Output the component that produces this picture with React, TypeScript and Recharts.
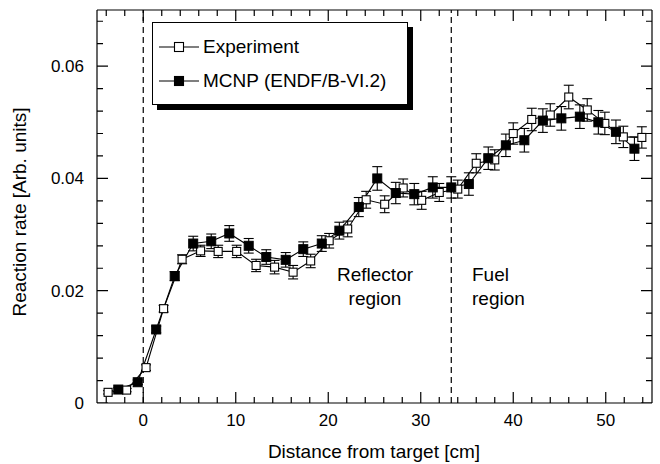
import React from "react";
import {
  ComposedChart,
  Line,
  XAxis,
  YAxis,
  ErrorBar,
  ReferenceLine,
} from "recharts";

/* Reaction rate distribution: experiment vs MCNP, with error bars.
   Ticks point inward on all four sides; each side is one Line whose
   short segments are split by null points. */

const FONT = '"Liberation Sans", Arial, Helvetica, sans-serif';

const expX = [-3.8, -1.8, 0.3, 2.2, 4.2, 6.2, 8.1, 10.1, 12.2, 14.2, 16.2, 18.1, 20.1, 22.1, 24.1, 26.1, 28.1, 30.1, 32.0, 34.0, 36.0, 38.0, 40.0, 42.0, 44.0, 46.0, 48.0, 49.9, 51.9, 53.9];
const expY = [0.0019, 0.0023, 0.0063, 0.0168, 0.0256, 0.0271, 0.027, 0.027, 0.0245, 0.0242, 0.0233, 0.0253, 0.0289, 0.031, 0.0362, 0.0354, 0.0383, 0.0361, 0.0375, 0.0381, 0.0427, 0.0433, 0.048, 0.0505, 0.0513, 0.0545, 0.0522, 0.0498, 0.0474, 0.0473];
const expErr = [0.0003, 0.0003, 0.0005, 0.0006, 0.0008, 0.001, 0.0011, 0.0011, 0.0011, 0.0012, 0.0012, 0.0012, 0.0013, 0.0014, 0.0015, 0.0015, 0.0016, 0.0016, 0.0016, 0.0016, 0.0017, 0.0018, 0.0019, 0.002, 0.002, 0.0021, 0.002, 0.002, 0.0019, 0.0019];

const mcnpX = [-2.7, -0.6, 1.4, 3.4, 5.4, 7.35, 9.3, 11.4, 13.3, 15.4, 17.3, 19.3, 21.2, 23.3, 25.3, 27.3, 29.3, 31.3, 33.3, 35.2, 37.3, 39.2, 41.2, 43.2, 45.2, 47.2, 49.2, 51.1, 53.1];
const mcnpY = [0.0024, 0.0037, 0.0131, 0.0226, 0.0284, 0.0288, 0.0302, 0.028, 0.026, 0.0255, 0.0274, 0.0284, 0.0307, 0.0349, 0.04, 0.0374, 0.0372, 0.0384, 0.0384, 0.039, 0.0436, 0.0459, 0.0468, 0.0503, 0.0507, 0.051, 0.05, 0.0483, 0.0453];
const mcnpErr = [0.0003, 0.0004, 0.0006, 0.0008, 0.0013, 0.0013, 0.0014, 0.0013, 0.0013, 0.0013, 0.0013, 0.0014, 0.0015, 0.0017, 0.0021, 0.0019, 0.0019, 0.0019, 0.0019, 0.002, 0.002, 0.002, 0.0021, 0.0021, 0.0021, 0.0021, 0.0021, 0.0021, 0.0021];

const xMajor = [0, 10, 20, 30, 40, 50];
const xMinor = [-4, -2, 2, 4, 6, 8, 12, 14, 16, 18, 22, 24, 26, 28, 32, 34, 36, 38, 42, 44, 46, 48, 52, 54];
const yMajor = [0, 0.02, 0.04, 0.06];
const yMinor = [0.004, 0.008, 0.012, 0.016, 0.024, 0.028, 0.032, 0.036, 0.044, 0.048, 0.052, 0.056, 0.064, 0.068];
const regionBounds = [0, 33.3];

const X_DOMAIN: [number, number] = [-5, 55];
const Y_DOMAIN: [number, number] = [0, 0.07];

const expData = expX.map((x, i) => ({ x, y: expY[i], e: expErr[i] }));
const mcnpData = mcnpX.map((x, i) => ({ x, y: mcnpY[i], e: mcnpErr[i] }));

// tick lengths in data units (~11px major, ~6px minor)
const VT_MAJ = 0.00196;
const VT_MIN = 0.00107;
const HT_MAJ = 1.19;
const HT_MIN = 0.65;

type P = { x: number; y: number | null };
const vTicks = (base: number, dir: number): P[] => [
  ...xMajor.flatMap((t) => [{ x: t, y: base }, { x: t, y: base + dir * VT_MAJ }, { x: t, y: null }]),
  ...xMinor.flatMap((t) => [{ x: t, y: base }, { x: t, y: base + dir * VT_MIN }, { x: t, y: null }]),
];
const hTicks = (base: number, dir: number): P[] => [
  ...yMajor.flatMap((t) => [{ x: base, y: t }, { x: base + dir * HT_MAJ, y: t }, { x: base, y: null }]),
  ...yMinor.flatMap((t) => [{ x: base, y: t }, { x: base + dir * HT_MIN, y: t }, { x: base, y: null }]),
];
const tickSets = [
  vTicks(Y_DOMAIN[0], 1),
  vTicks(Y_DOMAIN[1], -1),
  hTicks(X_DOMAIN[0], 1),
  hTicks(X_DOMAIN[1], -1),
];

const OpenSq = (p: any) => (
  <rect
    key={`o${p.index}`}
    x={p.cx - 4}
    y={p.cy - 4}
    width={8}
    height={8}
    fill="#fff"
    stroke="#000"
    strokeWidth={1.1}
  />
);
const FilledSq = (p: any) => (
  <rect
    key={`f${p.index}`}
    x={p.cx - 4.5}
    y={p.cy - 4.5}
    width={9}
    height={9}
    fill="#000"
    stroke="#000"
  />
);

const AXIS = { stroke: "#000", strokeWidth: 1.2 };
const TICK = { fill: "#000", fontSize: 17, fontFamily: FONT };

const fmtY = (v: number) => (v === 0 ? "0" : v.toFixed(2));

function LegendRow({ filled, label }: { filled: boolean; label: string }) {
  return (
    <div style={{ display: "flex", alignItems: "center", height: 34 }}>
      <svg width={42} height={12} style={{ marginRight: 2 }}>
        <line x1={0} y1={6} x2={40} y2={6} stroke="#000" strokeWidth={1.2} />
        <rect
          x={15.5}
          y={1.5}
          width={9}
          height={9}
          fill={filled ? "#000" : "#fff"}
          stroke="#000"
          strokeWidth={1.1}
        />
      </svg>
      <span>{label}</span>
    </div>
  );
}

export default function App() {
  return (
    <div
      style={{
        position: "absolute",
        left: 0,
        top: 0,
        width: 660,
        height: 464,
        background: "#fff",
        fontFamily: FONT,
        color: "#000",
      }}
    >
      <ComposedChart
        width={660}
        height={464}
        margin={{ top: 10, right: 8, bottom: 31, left: 57 }}
      >
        <XAxis
          xAxisId="b"
          type="number"
          dataKey="x"
          domain={X_DOMAIN}
          allowDataOverflow
          ticks={xMajor}
          interval={0}
          height={30}
          tickLine={false}
          tickMargin={5}
          axisLine={AXIS}
          tick={TICK}
        />
        <YAxis
          yAxisId="l"
          type="number"
          domain={Y_DOMAIN}
          allowDataOverflow
          ticks={yMajor}
          interval={0}
          width={40}
          tickLine={false}
          tickMargin={7}
          axisLine={AXIS}
          tick={TICK}
          tickFormatter={fmtY}
        />
        {/* frame: top and right edges */}
        <ReferenceLine xAxisId="b" yAxisId="l" y={Y_DOMAIN[1]} ifOverflow="visible" stroke="#000" strokeWidth={1.2} />
        <ReferenceLine xAxisId="b" yAxisId="l" x={X_DOMAIN[1]} ifOverflow="visible" stroke="#000" strokeWidth={1.2} />
        {regionBounds.map((b) => (
          <ReferenceLine
            key={`rb${b}`}
            x={b}
            xAxisId="b"
            yAxisId="l"
            stroke="#000"
            strokeWidth={1.2}
            strokeDasharray="6 4"
          />
        ))}
        {tickSets.map((d, i) => (
          <Line
            key={`ticks${i}`}
            data={d}
            xAxisId="b"
            yAxisId="l"
            dataKey="y"
            stroke="#000"
            strokeWidth={1.2}
            dot={false}
            activeDot={false}
            connectNulls={false}
            isAnimationActive={false}
          />
        ))}
        <Line
          data={expData}
          xAxisId="b"
          yAxisId="l"
          dataKey="y"
          stroke="#000"
          strokeWidth={1.1}
          dot={OpenSq}
          activeDot={false}
          isAnimationActive={false}
        >
          <ErrorBar dataKey="e" direction="y" width={5} stroke="#000" strokeWidth={1.1} />
        </Line>
        <Line
          data={mcnpData}
          xAxisId="b"
          yAxisId="l"
          dataKey="y"
          stroke="#000"
          strokeWidth={1.1}
          dot={FilledSq}
          activeDot={false}
          isAnimationActive={false}
        >
          <ErrorBar dataKey="e" direction="y" width={5} stroke="#000" strokeWidth={1.1} />
        </Line>
      </ComposedChart>

      {/* legend box with drop shadow */}
      <div
        style={{
          position: "absolute",
          left: 152,
          top: 22,
          width: 256,
          height: 83,
          border: "1.2px solid #000",
          background: "#fff",
          boxShadow: "5px 5px 0 #000",
          fontSize: 19,
          padding: "7px 0 0 6px",
          boxSizing: "border-box",
        }}
      >
        <LegendRow filled={false} label="Experiment" />
        <LegendRow filled label="MCNP (ENDF/B-VI.2)" />
      </div>

      <div style={{ position: "absolute", left: 337, top: 263, fontSize: 19, lineHeight: "24px", textAlign: "center" }}>
        Reflector
        <br />
        region
      </div>
      <div style={{ position: "absolute", left: 472, top: 263, fontSize: 19, lineHeight: "24px" }}>
        Fuel
        <br />
        region
      </div>

      <div
        style={{
          position: "absolute",
          left: 374,
          top: 452,
          transform: "translate(-50%, -50%)",
          fontSize: 19,
          whiteSpace: "nowrap",
        }}
      >
        Distance from target [cm]
      </div>
      <div
        style={{
          position: "absolute",
          left: 20,
          top: 212,
          transform: "translate(-50%, -50%) rotate(-90deg)",
          fontSize: 19,
          whiteSpace: "nowrap",
        }}
      >
        Reaction rate [Arb. units]
      </div>
    </div>
  );
}
